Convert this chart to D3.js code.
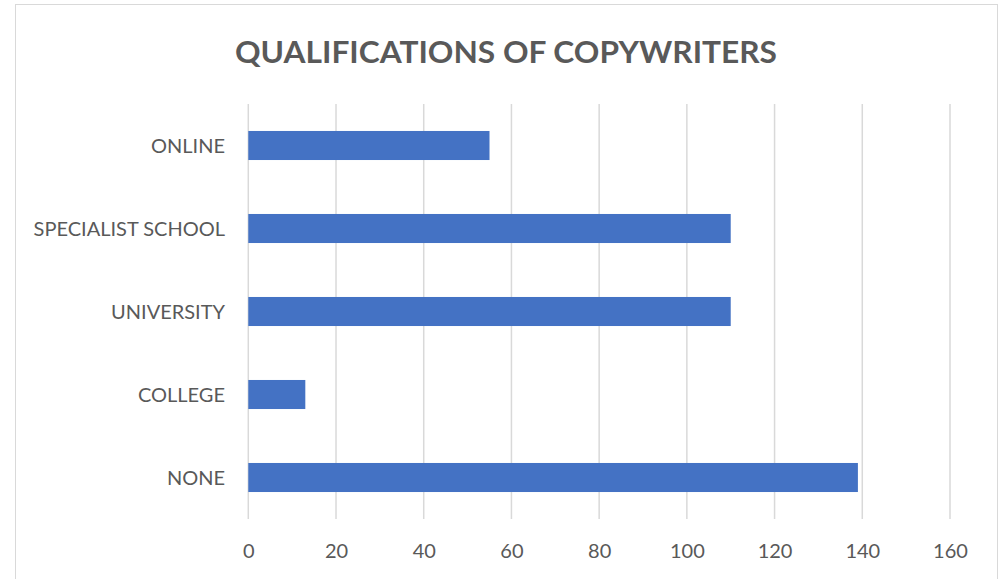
<!DOCTYPE html>
<html><head><meta charset="utf-8">
<script src="https://cdn.jsdelivr.net/npm/d3@7"></script>
<style>html,body{margin:0;padding:0;background:#fff;}svg{display:block;}</style>
</head><body><svg id="c" width="1005" height="579"></svg>
<script>
const categories = ["ONLINE", "SPECIALIST SCHOOL", "UNIVERSITY", "COLLEGE", "NONE"];
const values = [55, 110, 110, 13, 139];
const xTicks = [0, 20, 40, 60, 80, 100, 120, 140, 160];
const title = "QUALIFICATIONS OF COPYWRITERS";

const svg = d3.select("#c");
const font = "Lato, 'Open Sans', sans-serif";
svg.append("rect").attr("x", 15.5).attr("y", 4.5).attr("width", 982).attr("height", 600)
  .attr("fill", "#fff").attr("stroke", "#d9d9d9").attr("stroke-width", 1);

const x = d3.scaleLinear().domain([0, 160]).range([248.3, 950]);
const y = d3.scaleBand().domain(categories).range([104, 519]).paddingInner(0.65).paddingOuter(0.325);

svg.append("g").selectAll("line").data(xTicks).join("line")
  .attr("x1", d => x(d)).attr("x2", d => x(d)).attr("y1", 104).attr("y2", 519)
  .attr("stroke", "#d9d9d9").attr("stroke-width", 1.5);

svg.append("g").selectAll("rect").data(values).join("rect")
  .attr("x", x(0)).attr("y", (d, i) => y(categories[i]))
  .attr("width", d => x(d) - x(0)).attr("height", y.bandwidth())
  .attr("fill", "#4472c4");

const xAxis = svg.append("g").attr("transform", "translate(0,519)")
  .call(d3.axisBottom(x).tickValues(xTicks).tickSize(0).tickPadding(0));
xAxis.select(".domain").remove();
xAxis.selectAll("text").attr("y", 39).attr("dy", 0).attr("fill", "#595959")
  .style("font-family", font).style("font-size", "20px");

const yAxis = svg.append("g").attr("transform", "translate(225,0)")
  .call(d3.axisLeft(y).tickSize(0).tickPadding(0));
yAxis.select(".domain").remove();
yAxis.selectAll("text").attr("x", 0).attr("dy", "0.36em").attr("fill", "#595959")
  .style("font-family", font).style("font-size", "20px");

svg.append("text").attr("x", 506).attr("y", 63).attr("text-anchor", "middle")
  .attr("fill", "#595959").style("font-family", font).style("font-weight", "bold")
  .style("font-size", "31px").attr("textLength", 542).attr("lengthAdjust", "spacingAndGlyphs")
  .text(title);
</script></body></html>
